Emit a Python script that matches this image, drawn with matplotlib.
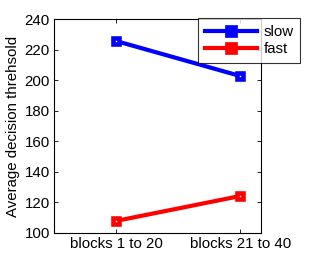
import matplotlib
matplotlib.use("Agg")
import matplotlib.pyplot as plt
from matplotlib.lines import Line2D

categories = ["blocks 1 to 20", "blocks 21 to 40"]
slow = [225.6, 202.7]
fast = [107.9, 124.2]
yticks = [100, 120, 140, 160, 180, 200, 220, 240]

plt.rcParams['font.family'] = ['Liberation Sans', 'DejaVu Sans']
FS = 10.8
fig = plt.figure(figsize=(3.32, 2.63), dpi=100)
ax = fig.add_axes([54/332, 1-233/263, 207/332, 214/263])
x = [1, 2]
ax.plot(x, slow, color='blue', lw=3.0, marker='s', ms=4.6, mfc='white', mec='blue', mew=3.3)
ax.plot(x, fast, color='red', lw=3.0, marker='s', ms=4.6, mfc='white', mec='red', mew=3.3)
ax.set_xlim(0.5, 2.5 - 1/3)
ax.set_ylim(100, 240)
ax.set_xticks(x)
ax.set_xticklabels(categories, fontsize=FS)
ax.set_yticks(yticks)
ax.tick_params(labelsize=FS, direction='in', top=True, right=True, length=3, width=0.6, pad=3)
ax.set_ylabel('Average decision threhsold', fontsize=FS, labelpad=3)
for s in ax.spines.values():
    s.set_linewidth(0.8)
handles = [Line2D([], [], color='blue', lw=3.0, marker='s', ms=8.2, mfc='blue', mec='blue', mew=0.5),
           Line2D([], [], color='red', lw=3.0, marker='s', ms=8.2, mfc='red', mec='red', mew=0.5)]
leg = ax.legend(handles, ['slow', 'fast'], loc='upper left',
                bbox_to_anchor=((198-54)/207, 1+1/214), fontsize=FS,
                frameon=True, fancybox=False, edgecolor='black', borderpad=0.45,
                handlelength=3.5, labelspacing=0.2, borderaxespad=0, handletextpad=0.4)
leg.get_frame().set_linewidth(0.8)
fig.savefig('out.png', dpi=100)
